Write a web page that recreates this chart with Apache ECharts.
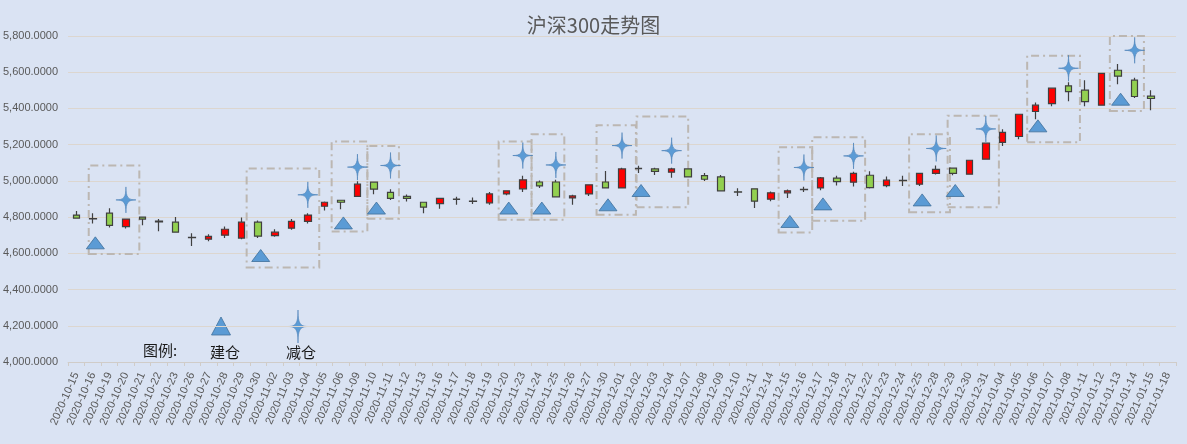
<!DOCTYPE html>
<html><head><meta charset="utf-8">
<script src="https://cdn.jsdelivr.net/npm/echarts@6/dist/echarts.min.js"></script>
<style>html,body{margin:0;padding:0;background:#DAE3F3}#c{width:1187px;height:444px}</style>
</head><body><div id="c"></div>
<script>
const categories = ['2020-10-15','2020-10-16','2020-10-19','2020-10-20','2020-10-21','2020-10-22','2020-10-23','2020-10-26','2020-10-27','2020-10-28','2020-10-29','2020-10-30',
'2020-11-02','2020-11-03','2020-11-04','2020-11-05','2020-11-06','2020-11-09','2020-11-10','2020-11-11','2020-11-12','2020-11-13','2020-11-16','2020-11-17','2020-11-18','2020-11-19','2020-11-20','2020-11-23','2020-11-24','2020-11-25','2020-11-26','2020-11-27','2020-11-30',
'2020-12-01','2020-12-02','2020-12-03','2020-12-04','2020-12-07','2020-12-08','2020-12-09','2020-12-10','2020-12-11','2020-12-14','2020-12-15','2020-12-16','2020-12-17','2020-12-18','2020-12-21','2020-12-22','2020-12-23','2020-12-24','2020-12-25','2020-12-28','2020-12-29','2020-12-30','2020-12-31',
'2021-01-04','2021-01-05','2021-01-06','2021-01-07','2021-01-08','2021-01-11','2021-01-12','2021-01-13','2021-01-14','2021-01-15','2021-01-18'];
const openVals  = [4811,4792,4822,4748,4800,4778,4772,4688,4678,4700,4684,4772,4698,4739,4776,4860,4893,4915,4993,4937,4915,4882,4875,4898,4889,4879,4928,4956,4994,4994,4906,4928,4994,4961,5069,5066,5048,5066,5029,5022,4940,4956,4899,4934,4953,4961,5015,4993,5031,4974,5003,4982,5042,5070,5037,5120,5213,5245,5383,5427,5525,5501,5418,5611,5556,5468,null];
const closeVals = [4794,4790,4754,4789,4789,4774,4717,4686,4694,4733,4772,4695,4717,4777,4811,4882,4882,4982,4954,4904,4904,4855,4904,4900,4887,4928,4945,5006,4972,4912,4917,4978,4961,5066,5067,5053,5066,5022,5009,4945,4938,4888,4934,4945,4951,5017,4996,5042,4963,5004,5001,5042,5064,5042,5114,5208,5268,5368,5418,5512,5493,5438,5594,5578,5466,5455,null];
const lowVals   = [4794,4765,4743,4737,4755,4722,4717,4640,4667,4684,4678,4684,4691,4730,4765,4836,4844,4915,4926,4895,4886,4822,4846,4868,4873,4868,4921,4939,4961,4908,4868,4917,4961,4961,5044,5033,5017,5020,5000,4943,4916,4850,4888,4906,4939,4949,4974,4969,4958,4965,4972,4972,5035,5031,5037,5120,5193,5230,5341,5412,5440,5412,5418,5534,5457,5390,null];
const highVals  = [4834,4822,4849,4790,4801,4789,4800,4711,4706,4748,4798,4781,4733,4789,4822,4886,4895,4998,4994,4954,4925,4884,4906,4912,4908,4939,4947,5028,5002,5006,4923,4980,5055,5072,5084,5072,5072,5068,5044,5033,4960,4958,4941,4952,4967,5022,5028,5051,5053,5024,5028,5044,5085,5074,5116,5210,5285,5370,5433,5514,5545,5556,5596,5646,5569,5501,null];

// 建仓 (open position) markers
const buyDates  = ['2020-10-16','2020-10-30','2020-11-06','2020-11-10','2020-11-20','2020-11-24','2020-11-30','2020-12-02','2020-12-15','2020-12-17','2020-12-25','2020-12-29','2021-01-06','2021-01-13'];
const buyValues = [4658,4588,4768,4850,4850,4850,4868,4947,4776,4873,4895,4947,5304,5451];
// 减仓 (reduce position) markers
const sellDates  = ['2020-10-20','2020-11-04','2020-11-09','2020-11-11','2020-11-23','2020-11-25','2020-12-01','2020-12-04','2020-12-16','2020-12-21','2020-12-28','2020-12-31','2021-01-08','2021-01-14'];
const sellValues = [4895,4923,5076,5085,5140,5088,5195,5167,5074,5138,5179,5287,5622,5721];
// highlighted regions: [from (category units), to (category units), low value, high value]
const boxFrom = [0.75,10.30,15.44,17.60,25.54,27.53,31.46,33.88,42.47,44.50,50.36,52.69,57.50,62.50];
const boxTo   = [3.81,14.69,17.60,19.51,27.53,29.51,33.84,37.00,44.50,47.70,52.83,55.79,60.69,64.56];
const boxLow  = [4597,4522,4720,4791,4785,4785,4813,4855,4715,4780,4827,4855,5214,5386];
const boxHigh = [5085,5068,5217,5193,5217,5258,5307,5355,5186,5241,5258,5360,5691,5800];
const yTicks = {min: 4000, max: 5800, step: 200};

const candleData = categories.map((d, i) => openVals[i] == null ? '-' : [openVals[i], closeVals[i], lowVals[i], highVals[i]]);
const buyData = buyDates.map((d, k) => [categories.indexOf(d) + 0.15, buyValues[k]]);
const sellData = sellDates.map((d, k) => [categories.indexOf(d), sellValues[k]]);
const boxes = boxFrom.map((f, k) => [{xAxis: f, yAxis: boxLow[k]}, {xAxis: boxTo[k], yAxis: boxHigh[k]}]);

// concave 4-point star (cubic curves), in a 100x100 box
const STAR_SEGS = [[[50,0],[50,40],[60,50],[100,50]],[[100,50],[60,50],[50,60],[50,100]],[[50,100],[50,60],[40,50],[0,50]],[[0,50],[40,50],[50,40],[50,0]]];
const STAR = 'path://M50,0 ' + STAR_SEGS.map(s => 'C' + s[1].join(',') + ' ' + s[2].join(',') + ' ' + s[3].join(',')).join(' ') + ' Z';
function starPolygon(x0, y0, w, h) {
  const pts = [];
  STAR_SEGS.forEach(s => { for (let k = 0; k < 12; k++) { const t = k / 12;
    const a = (1-t)**3, b = 3*(1-t)**2*t, c = 3*(1-t)*t*t, d = t**3;
    pts.push([x0 + (a*s[0][0] + b*s[1][0] + c*s[2][0] + d*s[3][0]) * w / 100,
              y0 + (a*s[0][1] + b*s[1][1] + c*s[2][1] + d*s[3][1]) * h / 100]);
  }});
  return pts;
}
const fmt = v => { const p = v.toFixed(4).split('.'); return p[0].replace(/\B(?=(\d{3})+(?!\d))/g, ',') + '.' + p[1]; };

const chart = echarts.init(document.getElementById('c'));
chart.setOption({
  backgroundColor: '#DAE3F3',
  animation: false,
  title: {text: '沪深300走势图', left: 'center', top: 10,
    textStyle: {fontSize: 20, fontWeight: 'normal', color: '#595959', fontFamily: 'Noto Sans CJK SC'}},
  grid: {left: 68, right: 11, top: 36, bottom: 82},
  xAxis: [{
    type: 'category', data: categories, boundaryGap: true,
    axisLine: {lineStyle: {color: '#D0CCC8'}},
    axisTick: {show: true, length: 4, lineStyle: {color: '#D0CCC8'}},
    axisLabel: {interval: 0, rotate: 66, fontSize: 11, color: '#595959', margin: 11, fontFamily: 'Liberation Sans'},
    splitLine: {show: false}
  }, {
    type: 'value', min: -0.5, max: categories.length - 0.5, show: false, splitLine: {show: false}
  }],
  yAxis: {
    type: 'value', min: yTicks.min, max: yTicks.max, interval: yTicks.step,
    axisLine: {show: false}, axisTick: {show: false},
    axisLabel: {formatter: fmt, fontSize: 11, color: '#595959', margin: 10, fontFamily: 'Liberation Sans'},
    splitLine: {lineStyle: {color: '#DCD6CF', width: 1}}
  },
  series: [{
    type: 'candlestick', data: candleData, barWidth: 7,
    itemStyle: {color: '#FF0000', color0: '#92D050', borderColor: '#404040', borderColor0: '#404040', borderWidth: 1.2}
  }, {
    type: 'scatter', xAxisIndex: 1, data: buyData, symbol: 'triangle', symbolSize: [18, 12],
    itemStyle: {color: '#5B9BD5', borderColor: '#41719C', borderWidth: 0.8, opacity: 1}, z: 5,
    markArea: {silent: true, data: boxes,
      itemStyle: {color: 'rgba(0,0,0,0)', borderColor: '#BCB7B2', borderWidth: 2, borderType: [8, 4, 2, 4]}}
  }, {
    type: 'scatter', xAxisIndex: 1, data: sellData, symbol: STAR, symbolSize: [20, 26],
    itemStyle: {color: '#5B9BD5', borderColor: '#4A7EB5', borderWidth: 0.6, opacity: 1}, z: 6
  }],
  graphic: [
    {type: 'text', x: 143, y: 343, style: {text: '图例:', fontSize: 15, fill: '#1a1a1a', fontFamily: 'Noto Sans CJK SC'}},
    {type: 'polygon', shape: {points: [[221, 317], [230.5, 335], [211.5, 335]]}, style: {fill: '#5B9BD5', stroke: '#41719C', lineWidth: 0.8}},
    {type: 'text', x: 210, y: 345, style: {text: '建仓', fontSize: 15, fill: '#1a1a1a', fontFamily: 'Noto Sans CJK SC'}},
    {type: 'polygon', shape: {points: starPolygon(288, 310, 20, 33)}, style: {fill: '#5B9BD5', stroke: '#4A7EB5', lineWidth: 0.6}},
    {type: 'text', x: 286, y: 345, style: {text: '减仓', fontSize: 15, fill: '#1a1a1a', fontFamily: 'Noto Sans CJK SC'}}
  ]
});
</script>
</body></html>
